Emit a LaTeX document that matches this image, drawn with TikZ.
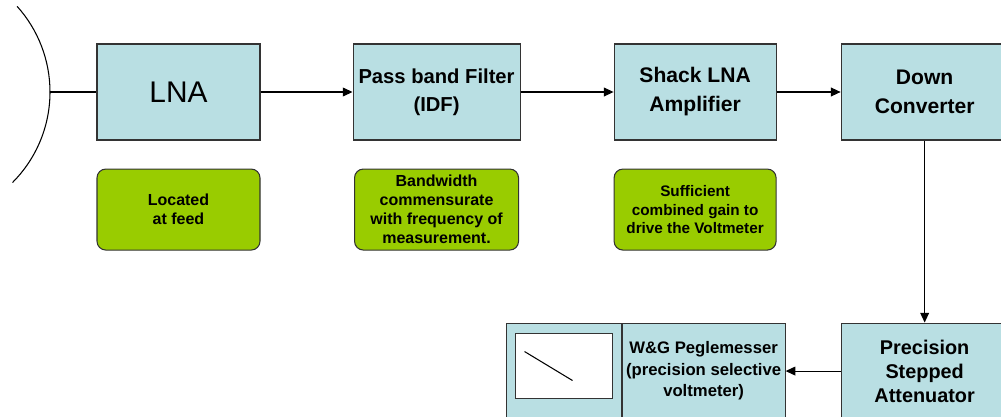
\documentclass[tikz,border=0pt]{standalone}
\usepackage{xcolor}
\usepackage{fontspec}
\setmainfont{Liberation Sans}
\usepackage{tikz}
\usetikzlibrary{arrows.meta, positioning}
\definecolor{boxblue}{HTML}{B9DFE3}
\definecolor{notegreen}{HTML}{99CC00}
\tikzset{%
	block/.style = {
		rectangle, draw=black!80, fill=boxblue,
		line width=0.6pt, inner sep=0pt,
		minimum width=3.26cm, minimum height=1.92cm,
		font=\bfseries\fontsize{12}{16.5}\selectfont
	},
	note/.style = {
		rectangle, rounded corners=5pt, draw=black!80, fill=notegreen,
		line width=0.6pt, inner sep=0pt,
		minimum width=3.26cm, minimum height=1.62cm,
		font=\bfseries\fontsize{9.1}{10.8}\selectfont
	},
	link/.style = {-{Triangle[length=5.5pt,width=5pt]}, line width=0.6pt}
}

\begin{document}
\begin{tikzpicture}[node distance=1cm, align=center]
    \useasboundingbox (0,0) rectangle (20.02,-8.34);
    % Specification of nodes (position, etc.)
    \node (lna)        [block, font=\fontsize{17}{20}\selectfont] at (3.57,-1.84) {LNA};
    \node (filter)     [block, minimum width=3.34cm, font=\bfseries\fontsize{11.5}{16}\selectfont, right=1.84cm of lna] {Pass band Filter\\(IDF)};
    \node (shack)      [block, minimum width=3.24cm, right=1.86cm of filter]    {Shack LNA\\Amplifier};
    \node (down)       [block, minimum width=3.34cm, right=1.28cm of shack]     {Down\\Converter};
    \node (atten)      [block, minimum width=3.34cm, font=\bfseries\fontsize{11.3}{13.7}\selectfont, below=3.64cm of down] {Precision\\Stepped\\Attenuator};
    \node (vmeter)     [block, font=\bfseries\fontsize{9.5}{12.2}\selectfont, left=1.1cm of atten] {W\&G Peglemesser\\(precision selective\\voltmeter)};
    \node (dial)       [block, minimum width=2.3cm, left=0pt of vmeter]         {};
    \node (screen)     [rectangle, draw=black!80, fill=white, line width=0.6pt,
                        minimum width=1.94cm, minimum height=1.3cm, anchor=north] at ([yshift=-0.2cm]dial.north) {};

    \node (feednote)   [note, below=0.56cm of lna]                             {Located\\at feed};
    \node (bandnote)   [note, minimum width=3.28cm, below=0.56cm of filter]     {Bandwidth\\commensurate\\with frequency of\\measurement.};
    \node (gainnote)   [note, minimum width=3.24cm, font=\bfseries\fontsize{8.7}{10.8}\selectfont, below=0.56cm of shack] {Sufficient\\combined gain to\\drive the Voltmeter};

    % antenna dish
    \coordinate (feed) at (1.0,-1.84);
    \draw[line width=0.6pt] (feed) arc[start angle=0, end angle=42, radius=2.56cm];
    \draw[line width=0.6pt] (feed) arc[start angle=0, end angle=-45, radius=2.56cm];
    \draw[line width=0.6pt] (feed) -- (lna);

    \draw[link]        (lna) -- (filter);
    \draw[link]        (filter) -- (shack);
    \draw[link]        (shack) -- (down);
    \draw[link]        (down) -- (atten);
    \draw[link]        (atten) -- (vmeter);
    \draw[line width=0.6pt] ([shift={(0.2,-0.38)}]screen.north west) -- ([shift={(1.16,-0.96)}]screen.north west);

\end{tikzpicture}
\end{document}
